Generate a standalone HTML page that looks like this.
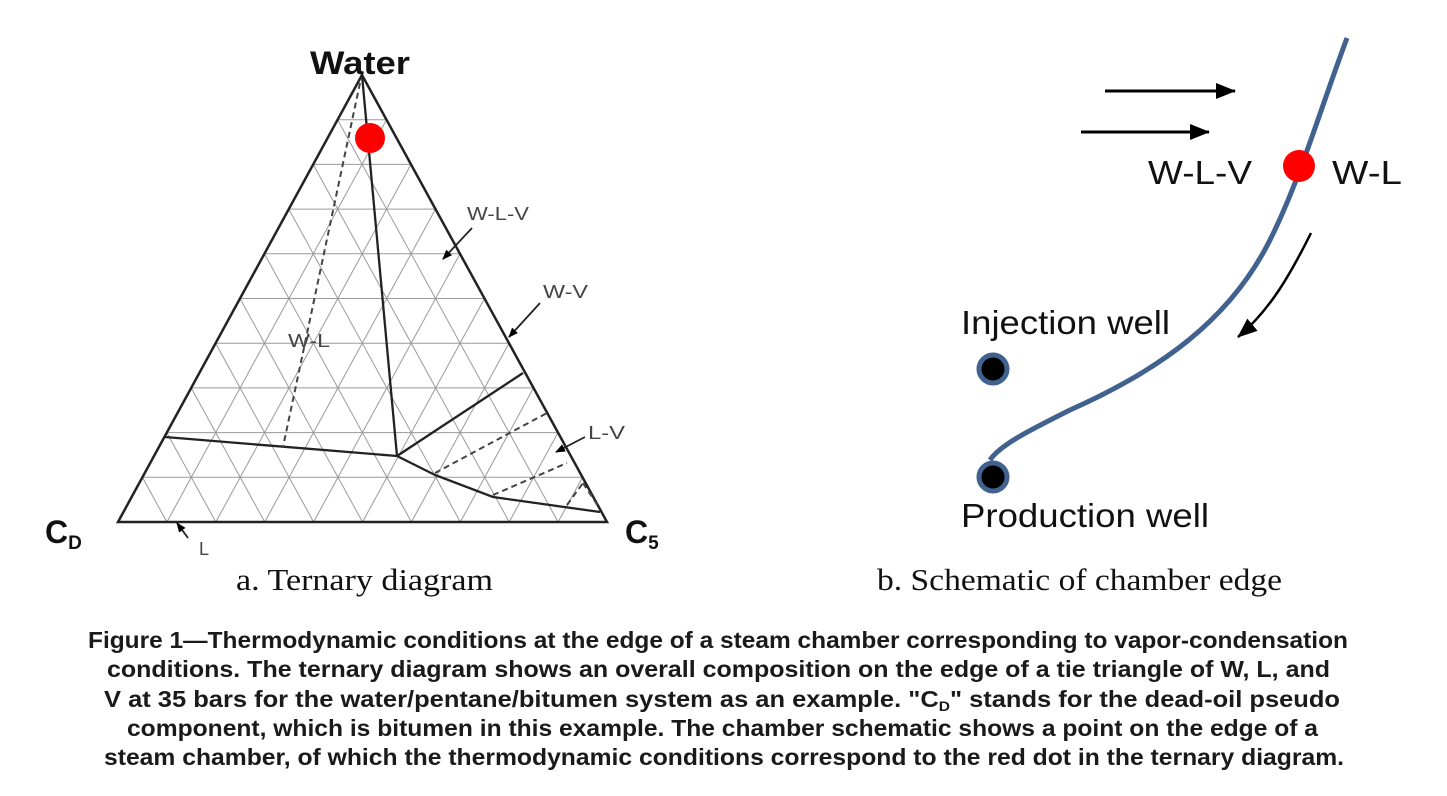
<!DOCTYPE html>
<html><head><meta charset="utf-8"><style>
html,body{margin:0;padding:0;background:#fff;width:1447px;height:796px;overflow:hidden}
</style></head><body>
<svg id="s" width="1447" height="796" viewBox="0 0 1447 796" xmlns="http://www.w3.org/2000/svg" font-family="Liberation Sans, Arial, sans-serif">
<defs>
<marker id="ah" markerWidth="10" markerHeight="8" refX="9" refY="4" orient="auto" markerUnits="userSpaceOnUse"><path d="M0,0 L10,4 L0,8 z" fill="#000"/></marker>
<marker id="ah2" markerWidth="20" markerHeight="16" refX="19" refY="8" orient="auto" markerUnits="userSpaceOnUse"><path d="M0,0 L20,8 L0,16 z" fill="#000"/></marker>
</defs>
<g id="grid" stroke="#9a9a9a" stroke-width="1"></g>
<polygon points="362,75 118,522 607,522" fill="none" stroke="#222" stroke-width="2.5"/>
<g stroke="#222" stroke-width="2.3" fill="none">
<line x1="362" y1="75" x2="397" y2="456"/>
<line x1="165" y1="437" x2="397" y2="456"/>
<line x1="397" y1="456" x2="523" y2="373"/>
<polyline points="397,456 435,475 493,497 600,512"/>
</g>
<g stroke="#444" stroke-width="2" fill="none" stroke-dasharray="6,4">
<line x1="360" y1="83" x2="283" y2="447"/>
<line x1="435" y1="473" x2="547" y2="413"/>
<line x1="493" y1="495" x2="567" y2="463"/>
<line x1="567" y1="505" x2="583" y2="483"/>
<line x1="583" y1="483" x2="598" y2="506"/>
</g>
<circle cx="370" cy="138" r="15" fill="#f00"/>
<g stroke="#222" stroke-width="1.8" fill="none">
<line x1="472" y1="228" x2="443" y2="259" marker-end="url(#ah)"/>
<line x1="540" y1="303" x2="509" y2="337" marker-end="url(#ah)"/>
<line x1="585" y1="437" x2="556" y2="452" marker-end="url(#ah)"/>
<line x1="188" y1="538" x2="177" y2="523" marker-end="url(#ah)"/>
</g>
<g fill="#444" font-size="18">
<text x="467" y="220" textLength="62" lengthAdjust="spacingAndGlyphs">W-L-V</text>
<text x="543" y="298" textLength="45" lengthAdjust="spacingAndGlyphs">W-V</text>
<text x="588" y="439" textLength="37" lengthAdjust="spacingAndGlyphs">L-V</text>
<text x="288" y="347" textLength="42" lengthAdjust="spacingAndGlyphs">W-L</text>
<text x="199" y="555">L</text>
</g>
<text x="310" y="74" font-size="32" font-weight="bold" fill="#111" textLength="100" lengthAdjust="spacingAndGlyphs">Water</text>
<text x="45" y="543" font-size="32" font-weight="bold" fill="#111">C<tspan font-size="19" dy="6">D</tspan></text>
<text x="625" y="543" font-size="32" font-weight="bold" fill="#111">C<tspan font-size="19" dy="6">5</tspan></text>

<text x="236" y="590" font-size="31" font-family="Liberation Serif, serif" fill="#111" textLength="257" lengthAdjust="spacingAndGlyphs">a. Ternary diagram</text>
<text x="877" y="590" font-size="31" font-family="Liberation Serif, serif" fill="#111" textLength="405" lengthAdjust="spacingAndGlyphs">b. Schematic of chamber edge</text>

<path d="M1347,38 C1320,110 1300,180 1270,240 C1230,320 1160,370 1070,410 C1030,430 1000,445 990,460" fill="none" stroke="#41628f" stroke-width="5"/>
<circle cx="1299" cy="166" r="16" fill="#f00"/>
<line x1="1105" y1="91" x2="1235" y2="91" stroke="#000" stroke-width="3" marker-end="url(#ah2)"/>
<line x1="1081" y1="132" x2="1209" y2="132" stroke="#000" stroke-width="3" marker-end="url(#ah2)"/>
<path d="M1311,233 C1290,275 1270,310 1238,337" fill="none" stroke="#000" stroke-width="2.5" marker-end="url(#ah2)"/>
<circle cx="993" cy="369" r="14" fill="#000" stroke="#41628f" stroke-width="5"/>
<circle cx="993" cy="477" r="14" fill="#000" stroke="#41628f" stroke-width="5"/>
<g font-size="33" fill="#111">
<text x="1148" y="184" textLength="104" lengthAdjust="spacingAndGlyphs">W-L-V</text>
<text x="1332" y="184" textLength="70" lengthAdjust="spacingAndGlyphs">W-L</text>
<text x="961" y="334" textLength="209" lengthAdjust="spacingAndGlyphs">Injection well</text>
<text x="961" y="527" textLength="248" lengthAdjust="spacingAndGlyphs">Production well</text>
</g>
<g font-size="23" font-weight="bold" fill="#1a1a1a">
<text x="88" y="648" textLength="1260" lengthAdjust="spacingAndGlyphs">Figure 1—Thermodynamic conditions at the edge of a steam chamber corresponding to vapor-condensation</text>
<text x="107" y="677" textLength="1223" lengthAdjust="spacingAndGlyphs">conditions. The ternary diagram shows an overall composition on the edge of a tie triangle of W, L, and</text>
<text x="104" y="707" textLength="1236" lengthAdjust="spacingAndGlyphs">V at 35 bars for the water/pentane/bitumen system as an example. "C<tspan font-size="14" dy="4">D</tspan><tspan dy="-4">" stands for the dead-oil pseudo</tspan></text>
<text x="127" y="736" textLength="1191" lengthAdjust="spacingAndGlyphs">component, which is bitumen in this example. The chamber schematic shows a point on the edge of a</text>
<text x="104" y="765" textLength="1240" lengthAdjust="spacingAndGlyphs">steam chamber, of which the thermodynamic conditions correspond to the red dot in the ternary diagram.</text>
</g>
</svg>
<script>
var A=[362,75],B=[118,522],C=[607,522],g=document.getElementById('grid'),h='';
function L(p,q){h+='<line x1="'+p[0]+'" y1="'+p[1]+'" x2="'+q[0]+'" y2="'+q[1]+'"/>';}
function m(P,Q,t){return [P[0]+t*(Q[0]-P[0]),P[1]+t*(Q[1]-P[1])];}
for(var k=1;k<10;k++){var t=k/10;L(m(A,B,t),m(A,C,t));L(m(B,A,t),m(B,C,t));L(m(C,A,t),m(C,B,t));}
g.innerHTML=h;
</script>
</body></html>
